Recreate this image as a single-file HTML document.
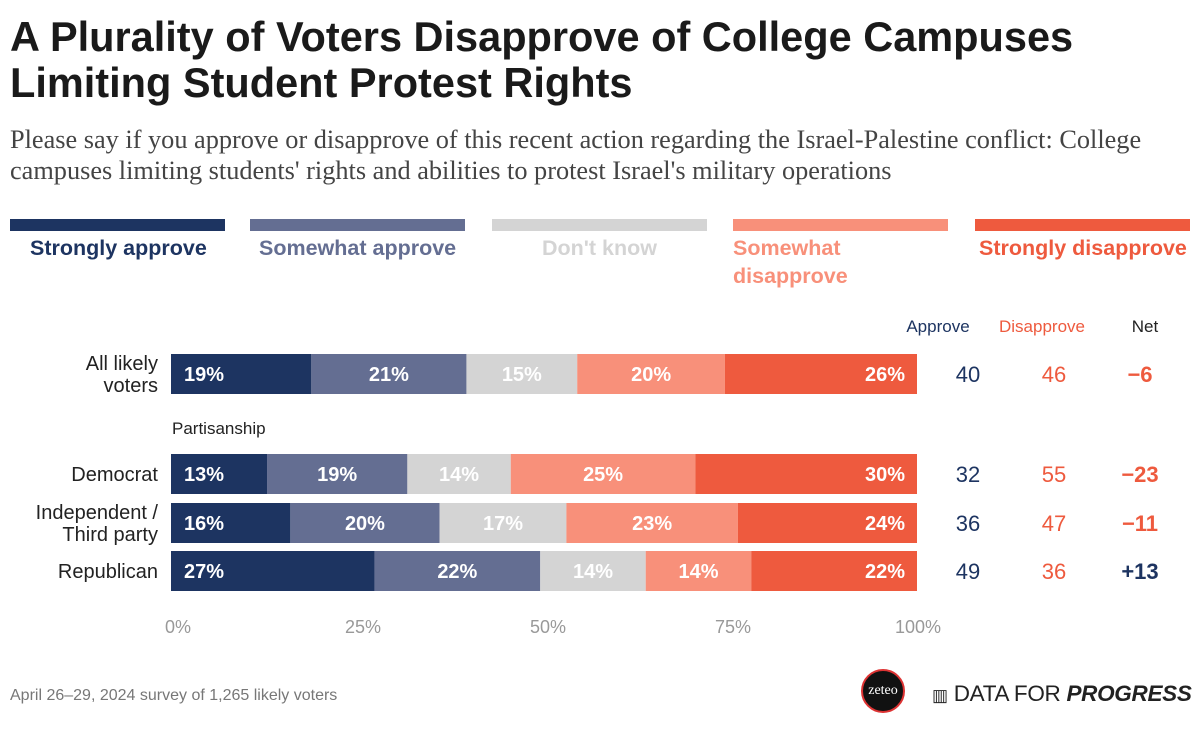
<!DOCTYPE html>
<html><head><meta charset="utf-8">
<style>
body{margin:0;width:1200px;height:731px;background:#fff;font-family:"Liberation Sans",sans-serif;position:relative;overflow:hidden}
.abs{position:absolute}
h1{position:absolute;left:10px;top:14px;margin:0;font-size:41.5px;line-height:46px;font-weight:bold;color:#1a1a1a;white-space:nowrap}
.sub{left:10px;top:124px;font-family:"Liberation Serif",serif;font-size:26.3px;line-height:31px;color:#444;width:1180px}
.leg{height:12px;top:219px;width:215px}
.legt{top:234px;font-size:21.5px;font-weight:bold;line-height:28px;white-space:nowrap}
</style></head><body>
<h1>A Plurality of Voters Disapprove of College Campuses<br>Limiting Student Protest Rights</h1>
<div class="abs sub">Please say if you approve or disapprove of this recent action regarding the Israel-Palestine conflict: College campuses limiting students' rights and abilities to protest Israel's military operations</div>
<div id="legend"></div>
<svg id="chart" class="abs" style="left:0;top:0" width="1200" height="731"></svg>
<div class="abs" style="left:10px;top:687px;font-size:16px;color:#777">April 26–29, 2024 survey of 1,265 likely voters</div>
<div class="abs" style="left:861px;top:669px;width:44px;height:44px;border-radius:50%;background:#111;border:2px solid #d33;box-sizing:border-box;color:#fff;font-family:'Liberation Serif',serif;font-size:14px;text-align:center;line-height:40px">zeteo</div>
<div class="abs" style="left:932px;top:681px;font-size:22.5px;color:#222;letter-spacing:-0.3px;white-space:nowrap"><span style="font-size:17px">▥</span> DATA FOR <b><i>PROGRESS</i></b></div>
<script>
const categories=["All likely voters","Democrat","Independent / Third party","Republican"];
const strongApprove=[19,13,16,27];
const someApprove=[21,19,20,22];
const dontKnow=[15,14,17,14];
const someDisapprove=[20,25,23,14];
const strongDisapprove=[26,30,24,22];
const approveTot=[40,32,36,49];
const disapproveTot=[46,55,47,36];
const netVals=["−6","−23","−11","+13"];
const ticks=[0,25,50,75,100];
const seriesNames=["Strongly approve","Somewhat approve","Don't know","Somewhat disapprove","Strongly disapprove"];
const colors=["#1d3461","#646e92","#d4d4d4","#f8907a","#ee5a3e"];
const series=[strongApprove,someApprove,dontKnow,someDisapprove,strongDisapprove];
const rowY=[354,454,503,551], bh=40, x0=171, x1=917;
const xs=v=>x0+(x1-x0)*v/100;
const NS="http://www.w3.org/2000/svg";
const svg=document.getElementById('chart');
function t(x,y,s,o){const e=document.createElementNS(NS,'text');e.setAttribute('x',x);e.setAttribute('y',y);e.textContent=s;for(const k in o)e.setAttribute(k,o[k]);svg.appendChild(e);return e;}
const lg=document.getElementById('legend');
const legX=[10,250,492,733,975];
const legTX=[30,259,542,733,979];
seriesNames.forEach((n,i)=>{
 const b=document.createElement('div');b.className='abs leg';b.style.left=legX[i]+'px';b.style.background=colors[i];
 
 
 lg.appendChild(b);
 const l=document.createElement('div');l.className='abs legt';l.style.left=legTX[i]+'px';l.style.color=colors[i];
 l.innerHTML=i==3?'Somewhat<br>disapprove':n;
 
 
 lg.appendChild(l);
});
categories.forEach((c,r)=>{
 let cum=0;const y=rowY[r];
 const tot=series.reduce((a,s)=>a+s[r],0);
 series.forEach((s,i)=>{
  const a=xs(cum/tot*100),b=xs((cum+s[r])/tot*100);
  const rc=document.createElementNS(NS,'rect');
  rc.setAttribute('x',a);rc.setAttribute('y',y);rc.setAttribute('width',b-a);rc.setAttribute('height',bh);rc.setAttribute('fill',colors[i]);
  
  
  svg.appendChild(rc);
  const lbl=s[r]+'%';
  let lx,anc;
  if(i==0){lx=a+13;anc='start';}else if(i==4){lx=b-12;anc='end';}else{lx=(a+b)/2;anc='middle';}
  const e=t(lx,y+bh/2+7,lbl,{'text-anchor':anc,'font-size':20,'font-weight':'bold',fill:'#fff'});
  
  cum+=s[r];
 });
 const lines=r==0?["All likely","voters"]:r==2?["Independent /","Third party"]:[c];
 lines.forEach((ln,k)=>{const e=t(158,y+bh/2+7+(k-(lines.length-1)/2)*22,ln,{'text-anchor':'end','font-size':20,fill:'#222'});});
 t(968,y+bh/2+8,approveTot[r],{'text-anchor':'middle','font-size':22,fill:'#1d3461'});
 t(1054,y+bh/2+8,disapproveTot[r],{'text-anchor':'middle','font-size':22,fill:'#ee5a3e'});
 t(1140,y+bh/2+8,netVals[r],{'text-anchor':'middle','font-size':22,'font-weight':'bold',fill:netVals[r][0]=='+'?'#1d3461':'#ee5a3e'});
});
t(938,332,'Approve',{'text-anchor':'middle','font-size':17,fill:'#1d3461'});
t(1042,332,'Disapprove',{'text-anchor':'middle','font-size':17,fill:'#ee5a3e'});
t(1145,332,'Net',{'text-anchor':'middle','font-size':17,fill:'#222'});
t(172,434,'Partisanship',{'font-size':17,fill:'#222'});
ticks.forEach(v=>{const e=t(xs(v)+7-(v/100)*6,633,v+'%',{'text-anchor':'middle','font-size':18,fill:'#999'});});
</script>
</body></html>
